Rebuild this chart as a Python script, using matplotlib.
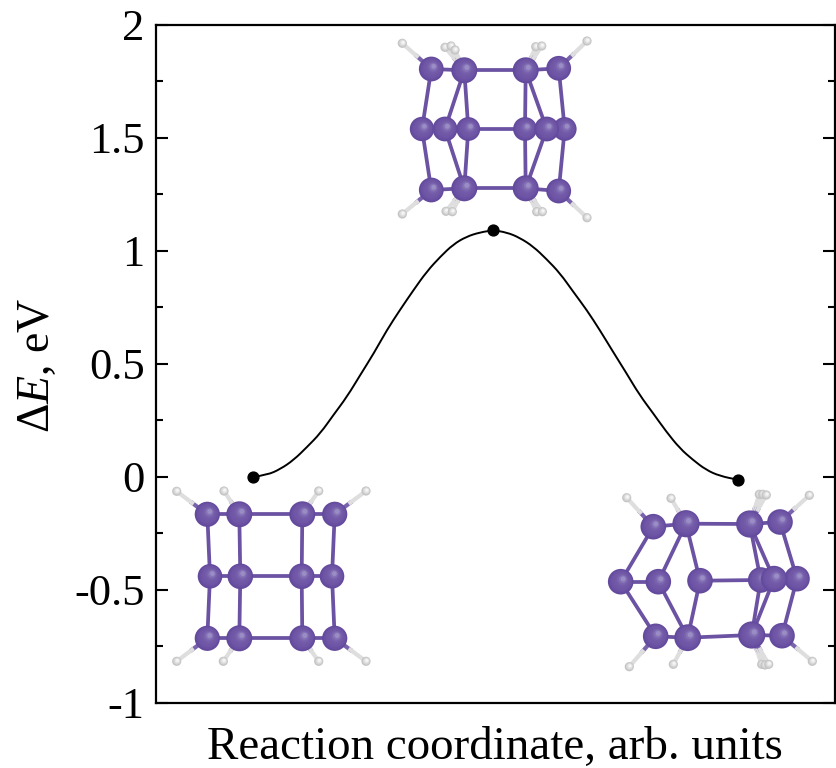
import matplotlib

matplotlib.use("Agg")

import matplotlib.pyplot as plt
from matplotlib.patches import Circle, PathPatch
from matplotlib.path import Path
from matplotlib.ticker import FixedLocator

plt.rcParams["font.family"] = ["Liberation Serif", "DejaVu Serif"]
plt.rcParams["mathtext.fontset"] = "custom"
plt.rcParams["mathtext.rm"] = "Liberation Serif"
plt.rcParams["mathtext.it"] = "Liberation Serif:italic"

# energy profile
reaction = [
    0.000, 0.028, 0.056, 0.083, 0.110, 0.138, 0.165, 0.193, 0.220, 0.248,
    0.275, 0.302, 0.330, 0.357, 0.385, 0.412, 0.439, 0.467, 0.494, 0.522,
    0.549, 0.577, 0.604, 0.632, 0.659, 0.687, 0.714, 0.741, 0.769, 0.796,
    0.824, 0.851, 0.879, 0.906, 0.933, 0.961, 0.999,
]
energy = [
    0.000, 0.008, 0.035, 0.075, 0.131, 0.193, 0.274, 0.355, 0.450, 0.546,
    0.649, 0.738, 0.826, 0.907, 0.973, 1.028, 1.062, 1.081, 1.090, 1.081,
    1.057, 1.018, 0.963, 0.900, 0.819, 0.738, 0.649, 0.554, 0.458, 0.362,
    0.281, 0.200, 0.126, 0.075, 0.031, 0.004, -0.013,
]
stationary_x = [0.000, 0.494, 0.999]
stationary_y = [0.000, 1.090, -0.013]

y_major = [-1, -0.5, 0, 0.5, 1, 1.5, 2]
y_labels = ["-1", "-0.5", "0", "0.5", "1", "1.5", "2"]
y_minor = [-0.75, -0.25, 0.25, 0.75, 1.25, 1.75]

# structures, in picture pixels: x, y, radius for atoms; x, y, parent for hydrogens
flat_atoms = [
    (207.3, 514.3, 12.6), (239.3, 514.3, 13.0), (302.3, 514.3, 13.0), (334.7, 514.3, 12.6),
    (210.0, 576.3, 12.3), (240.3, 576.3, 12.8), (301.7, 576.3, 12.8), (332.0, 576.3, 12.3),
    (207.3, 638.3, 12.6), (239.3, 638.3, 13.0), (302.3, 638.3, 13.0), (334.7, 638.3, 12.6),
]
flat_bonds = [
    (0, 1), (1, 2), (2, 3), (4, 5), (5, 6), (6, 7), (8, 9), (9, 10), (10, 11),
    (0, 4), (1, 5), (2, 6), (3, 7), (4, 8), (5, 9), (6, 10), (7, 11),
]
flat_hydrogens = [
    (176.7, 491.3, 0), (224.0, 491.0, 1), (318.7, 491.0, 2), (366.0, 491.0, 3),
    (176.7, 661.3, 8), (223.3, 661.3, 9), (318.7, 661.3, 10), (366.0, 661.3, 11),
]

saddle_atoms = [
    (431.3, 69.0, 12.4), (464.3, 70.3, 13.0), (525.7, 70.3, 13.0), (558.7, 68.3, 12.4),
    (422.0, 129.0, 12.2), (445.0, 129.0, 12.4), (468.3, 129.0, 11.9), (525.0, 129.0, 11.9),
    (546.7, 129.0, 12.4), (564.7, 129.0, 11.9),
    (431.3, 190.0, 12.4), (464.3, 188.3, 13.0), (525.7, 188.3, 13.0), (558.7, 191.0, 12.4),
]
saddle_bonds = [
    (0, 1), (1, 2), (2, 3), (4, 5), (6, 7), (8, 9), (10, 11), (11, 12), (12, 13),
    (0, 4), (4, 10), (1, 5), (5, 11), (1, 6), (6, 11),
    (2, 7), (7, 12), (2, 8), (8, 12), (3, 9), (9, 13),
]
saddle_hydrogens = [
    (402.3, 43.3, 0), (445.0, 47.3, 1), (451.0, 46.0, 1), (455.0, 50.0, 1),
    (535.7, 46.7, 2), (541.7, 46.0, 2), (587.0, 41.0, 3),
    (402.3, 214.0, 10), (446.0, 211.3, 11), (452.3, 211.7, 11),
    (536.7, 211.7, 12), (542.3, 211.7, 12), (587.0, 217.7, 13),
]

twisted_atoms = [
    (653.3, 526.7, 12.8), (686.0, 523.7, 13.6), (749.7, 524.0, 13.6), (780.0, 522.0, 12.8),
    (620.7, 581.7, 12.8), (658.3, 581.7, 12.8), (700.0, 580.7, 12.8), (760.7, 580.0, 12.8),
    (797.0, 578.7, 12.8), (774.0, 579.0, 13.2),
    (655.7, 636.3, 12.8), (687.7, 637.7, 13.4), (751.7, 635.0, 13.6), (782.0, 635.7, 12.8),
]
twisted_bonds = [
    (0, 1), (1, 2), (2, 3), (4, 5), (6, 7), (7, 9), (9, 8), (10, 11), (11, 12), (12, 13),
    (0, 4), (4, 10), (1, 5), (5, 11), (1, 6), (6, 11),
    (2, 7), (7, 12), (2, 9), (9, 12), (3, 8), (8, 13),
]
twisted_hydrogens = [
    (626.7, 497.7, 0), (671.0, 498.3, 1), (759.3, 494.3, 2), (762.7, 494.3, 2),
    (766.3, 495.0, 2), (809.3, 495.3, 3),
    (629.3, 666.7, 10), (673.3, 664.3, 11), (761.7, 664.3, 12), (765.0, 665.0, 12),
    (768.7, 664.3, 12), (812.3, 661.3, 13),
]

SPHERE_SHADES = ["#644a9c", "#6a50a2", "#6e55a5", "#7058a7", "#735ba9", "#7a63ae", "#8573b6", "#9a8cc4"]
HYDROGEN_SHADES = ["#c4c4c4", "#d6d6d6", "#e6e6e6", "#f6f6f6"]


def draw_sphere(axis, x, y, radius, shades, zorder):
    # stacked discs drifting towards the highlight, upper right
    count = len(shades)
    for index, shade in enumerate(shades):
        fraction = index / count
        scale = 1.0 - fraction * 0.92
        axis.add_patch(
            Circle(
                (x + fraction * radius * 0.22, y - fraction * radius * 0.25),
                radius * scale,
                facecolor=shade,
                edgecolor="none",
                zorder=zorder,
            )
        )


def draw_structure(axis, atoms, bonds, hydrogens):
    for first, second in bonds:
        axis.plot(
            [atoms[first][0], atoms[second][0]],
            [atoms[first][1], atoms[second][1]],
            color="#6b52a3",
            linewidth=2.7,
            solid_capstyle="round",
            zorder=2,
        )
    for hx, hy, parent in hydrogens:
        px, py, _ = atoms[parent]
        mid = ((px + hx) * 0.5, (py + hy) * 0.5)
        axis.plot([px, mid[0]], [py, mid[1]], color="#7a63ad", linewidth=3.0, zorder=2)
        axis.plot([mid[0], hx], [mid[1], hy], color="#dedede", linewidth=3.0, zorder=2)
        draw_sphere(axis, hx, hy, 4.6, HYDROGEN_SHADES, 3)
    for index, (x, y, radius) in enumerate(atoms):
        draw_sphere(axis, x, y, radius, SPHERE_SHADES, 4 + radius + index * 0.001)


def smooth_profile(xs, ys):
    # read points act as quadratic control points, so the line has no corners
    vertices = [(xs[0], ys[0])]
    codes = [Path.MOVETO]
    for index in range(1, len(xs) - 1):
        vertices.append((xs[index], ys[index]))
        codes.append(Path.CURVE3)
        vertices.append(((xs[index] + xs[index + 1]) / 2, (ys[index] + ys[index + 1]) / 2))
        codes.append(Path.CURVE3)
    vertices.append((xs[-1], ys[-1]))
    codes.append(Path.LINETO)
    return Path(vertices, codes)


figure = plt.figure(figsize=(8.37, 7.68), dpi=100)
axis = figure.add_axes([156.5 / 837, 1 - 703.0 / 768, 679.0 / 837, 678.5 / 768])
axis.add_patch(PathPatch(smooth_profile(reaction, energy), facecolor="none",
                         edgecolor="black", linewidth=1.4))
axis.plot(stationary_x, stationary_y, "o", color="black", markersize=7.8, linestyle="none")

axis.set_xlim(-0.2, 1.2)
axis.set_ylim(-1, 2)
axis.set_xticks([])
axis.yaxis.set_major_locator(FixedLocator(y_major))
axis.yaxis.set_minor_locator(FixedLocator(y_minor))
axis.set_yticklabels(y_labels)
axis.tick_params(axis="y", which="major", direction="in", left=True, right=True,
                 length=8.6, width=1.5, pad=8.5, labelsize=32)
axis.tick_params(axis="y", which="minor", direction="in", left=True, right=True,
                 length=5, width=1.5)
for spine in axis.spines.values():
    spine.set_linewidth(1.6)

figure.text(495 / 837, 1 - 758.5 / 768, "Reaction coordinate, arb. units",
            ha="center", va="baseline", fontsize=33.8)
figure.text(59 / 837, 1 - 365 / 768, "Δ$\\mathit{E}$, eV", rotation=90,
            ha="right", va="center", fontsize=33)

# overlay in picture pixels for the ball and stick structures
overlay = figure.add_axes([0, 0, 1, 1], facecolor="none")
overlay.set_xlim(0, 837)
overlay.set_ylim(768, 0)
overlay.axis("off")
draw_structure(overlay, flat_atoms, flat_bonds, flat_hydrogens)
draw_structure(overlay, saddle_atoms, saddle_bonds, saddle_hydrogens)
draw_structure(overlay, twisted_atoms, twisted_bonds, twisted_hydrogens)

figure.savefig("out.png", dpi=100)
plt.close(figure)
